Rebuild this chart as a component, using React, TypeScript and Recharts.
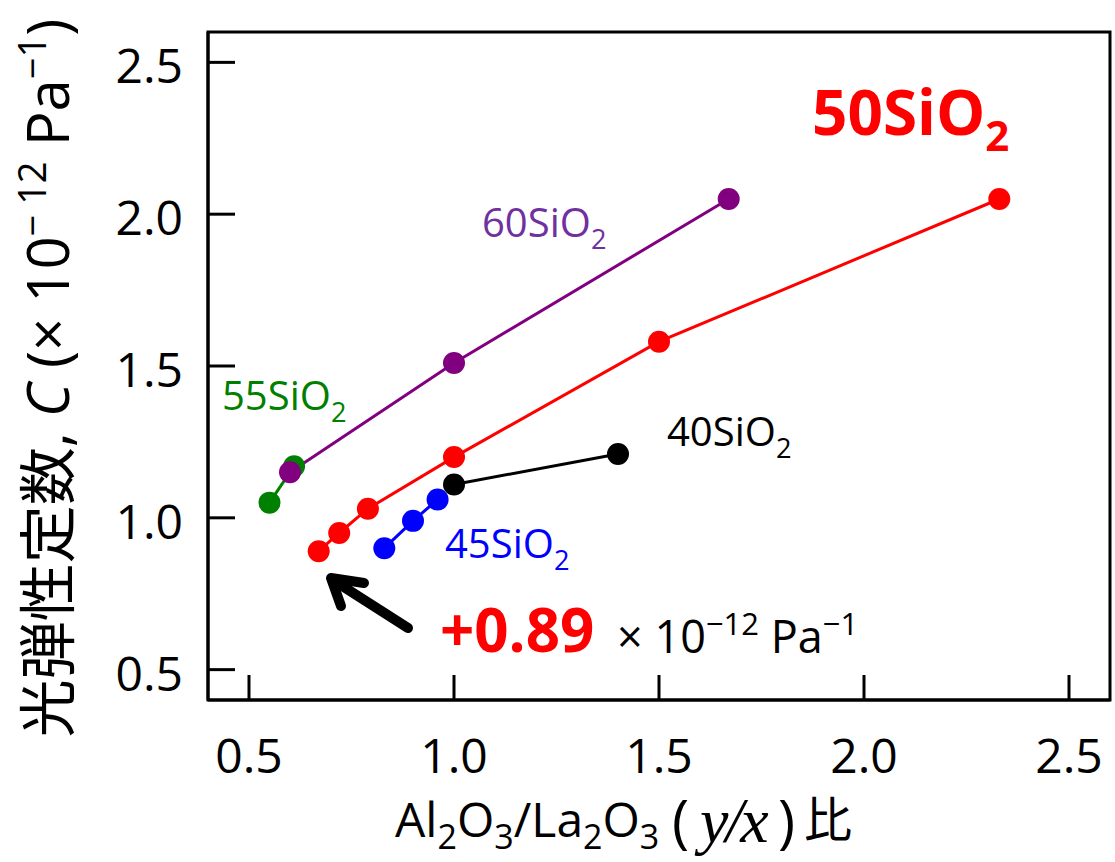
import { LineChart, Line, XAxis, YAxis, ReferenceArea, Customized } from "recharts";

const FONT = "'Open Sans', 'Noto Sans CJK JP', sans-serif";
const CJK = "'Noto Sans CJK JP', sans-serif";
const SERIF = "'Liberation Serif', 'DejaVu Serif', serif";

const X_TICKS = [0.5, 1.0, 1.5, 2.0, 2.5];
const Y_TICKS = [0.5, 1.0, 1.5, 2.0, 2.5];

// [Al2O3/La2O3 ratio, photoelastic constant]
const SIO2_55: [number, number][] = [
  [0.55, 1.05],
  [0.61, 1.17],
];
const SIO2_60: [number, number][] = [
  [0.6, 1.15],
  [1.0, 1.51],
  [1.67, 2.05],
];
const SIO2_45: [number, number][] = [
  [0.83, 0.9],
  [0.9, 0.99],
  [0.96, 1.06],
];
const SIO2_40: [number, number][] = [
  [1.0, 1.11],
  [1.4, 1.21],
];
const SIO2_50: [number, number][] = [
  [0.67, 0.89],
  [0.72, 0.95],
  [0.79, 1.03],
  [1.0, 1.2],
  [1.5, 1.58],
  [2.33, 2.05],
];

const toPoints = (arr: [number, number][]) => arr.map(([x, y]) => ({ x, y }));

const SERIES = [
  { name: "55SiO2", data: toPoints(SIO2_55), color: "#008000" },
  { name: "60SiO2", data: toPoints(SIO2_60), color: "#800080" },
  { name: "45SiO2", data: toPoints(SIO2_45), color: "#0000ff" },
  { name: "40SiO2", data: toPoints(SIO2_40), color: "#000000" },
  { name: "50SiO2", data: toPoints(SIO2_50), color: "#ff0000" },
];

const Label = ({ x, y, num, color, size = 40 }: any) => (
  <text x={x} y={y} fill={color} fontSize={size} fontFamily={FONT}>
    {num}SiO
    <tspan dy={size * 0.3} fontSize={size * 0.68}>
      2
    </tspan>
  </text>
);

const Annotations = () => (
  <g>
    {/* axis titles */}
    <text
      transform="translate(69,378) rotate(-90)"
      textAnchor="middle"
      fontSize={58}
      fontFamily={FONT}
      fill="#000"
    >
      光弾性定数, <tspan fontStyle="italic">C</tspan> (× 10
      <tspan dy={-23} fontSize={38}>
        − 12
      </tspan>
      <tspan dy={23}> Pa</tspan>
      <tspan dy={-23} fontSize={38}>
        −1
      </tspan>
      <tspan dy={23}>)</tspan>
    </text>
    <text x={395} y={837} fontSize={48} fontFamily={FONT} fill="#000">
      Al<tspan dy={12} fontSize={34}>2</tspan>
      <tspan dy={-12}>O</tspan>
      <tspan dy={12} fontSize={34}>3</tspan>
      <tspan dy={-12}>/La</tspan>
      <tspan dy={12} fontSize={34}>2</tspan>
      <tspan dy={-12}>O</tspan>
      <tspan dy={12} fontSize={34}>3</tspan>
    </text>
    <text x={672} y={842} fontSize={58} fontFamily={FONT} fill="#000">
      (
    </text>
    <text
      x={700}
      y={842}
      fontSize={64}
      fontFamily={SERIF}
      fontStyle="italic"
      letterSpacing={-3}
      fill="#000"
    >
      y/x
    </text>
    <text x={778} y={842} fontSize={58} fontFamily={FONT} fill="#000">
      )
    </text>
    <text x={804} y={837} fontSize={48} fontFamily={CJK} fill="#000">
      比
    </text>

    {/* series labels */}
    <Label x={482} y={237} num="60" color="#7030a0" />
    <Label x={222} y={410} num="55" color="#008000" />
    <Label x={667} y={446} num="40" color="#000000" />
    <Label x={445} y={558} num="45" color="#0000ff" />
    <text x={812} y={135} fill="#ff0000" fontSize={62} fontWeight="bold" fontFamily={FONT}>
      50SiO
      <tspan dy={16} fontSize={42}>
        2
      </tspan>
    </text>

    {/* arrow and value */}
    <g stroke="#000" strokeWidth={10} strokeLinecap="round" strokeLinejoin="round" fill="none">
      <line x1={408} y1={628} x2={336} y2={582} />
      <polyline points="364,583 331,578 341,606" />
    </g>
    <text x={440} y={652} fill="#ff0000" fontSize={60} fontWeight="bold" fontFamily={FONT}>
      +0.89
    </text>
    <text x={617} y={653} fill="#000" fontSize={45} fontFamily={FONT}>
      × 10
      <tspan dy={-18} fontSize={31}>
        −12
      </tspan>
      <tspan dy={18}> Pa</tspan>
      <tspan dy={-18} fontSize={31}>
        −1
      </tspan>
    </text>
  </g>
);

export default function App() {
  return (
    <div style={{ width: 1115, height: 862, background: "#fff" }}>
      <style>{`body { margin: 0; }`}</style>
      <LineChart
        width={1115}
        height={862}
        margin={{ top: 32, right: 5, bottom: 0, left: 0 }}
      >
        <XAxis
          type="number"
          dataKey="x"
          domain={[0.4, 2.6]}
          ticks={X_TICKS}
          allowDataOverflow
          height={162}
          tickFormatter={(v: number) => v.toFixed(1)}
          tick={{ fontSize: 48, fill: "#000", fontFamily: FONT }}
          axisLine={{ stroke: "#000", strokeWidth: 3 }}
          tickLine={{ stroke: "#000", strokeWidth: 3 }}
          tickSize={-25}
          tickMargin={64}
        />
        <YAxis
          type="number"
          dataKey="y"
          domain={[0.4, 2.6]}
          ticks={Y_TICKS}
          allowDataOverflow
          width={208}
          tickFormatter={(v: number) => v.toFixed(1)}
          tick={{ fontSize: 48, fill: "#000", fontFamily: FONT, dy: 4 }}
          axisLine={{ stroke: "#000", strokeWidth: 3 }}
          tickLine={{ stroke: "#000", strokeWidth: 3 }}
          tickSize={-27}
          tickMargin={52}
        />
        <ReferenceArea
          x1={0.4}
          x2={2.6}
          y1={0.4}
          y2={2.6}
          fill="none"
          stroke="#000"
          strokeWidth={3}
          ifOverflow="visible"
        />
        {SERIES.map((s) => (
          <Line
            key={s.name}
            data={s.data}
            dataKey="y"
            type="linear"
            stroke={s.color}
            strokeWidth={3}
            dot={{ r: 11, fill: s.color, stroke: "none", fillOpacity: 1 }}
            activeDot={false}
            isAnimationActive={false}
          />
        ))}
        <Customized component={<Annotations />} />
      </LineChart>
    </div>
  );
}
